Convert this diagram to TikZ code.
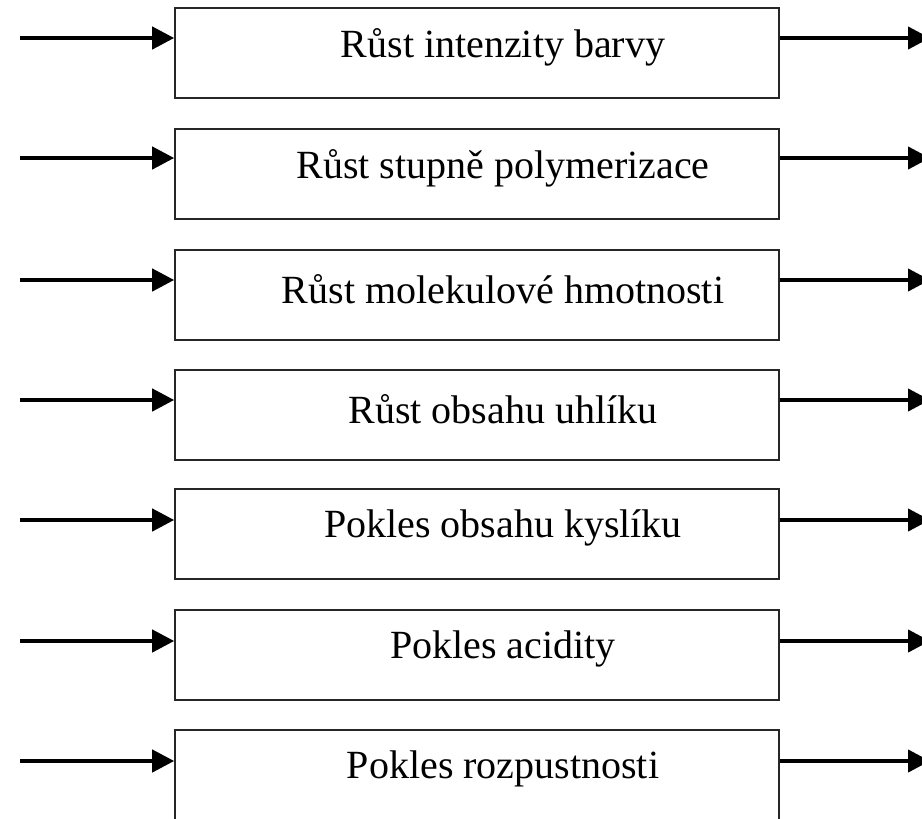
\documentclass[tikz,border=0pt]{standalone}
\usepackage{fontspec}
\setmainfont{Liberation Serif}
\usetikzlibrary{arrows.meta}
\tikzset{
	stagebox/.style={draw=black!85, line width=1.6pt, minimum width=604pt, minimum height=90pt, inner sep=0pt},
	stagetext/.style={font=\fontsize{40}{46}\selectfont, xshift=26pt, yshift=6pt},
	flow/.style={line width=4.2pt, -{Triangle[length=22pt, width=22pt]}}
}

\begin{document}
\begin{tikzpicture}[x=1pt, y=-1pt]
			%%%%% START %%%%%
			
			\useasboundingbox (0, 0) rectangle (922, 819);
			\clip (0, 0) rectangle (922, 819);
			
			\node[stagebox, label={[stagetext]center:Růst intenzity barvy}] (rust1) at (477, 53) {};
			\node[stagebox, label={[stagetext]center:Růst stupně polymerizace}] (rust2) at (477, 174) {};
			\node[stagebox, label={[stagetext]center:Růst molekulové hmotnosti}] (rust3) at (477, 295) {};
			\node[stagebox, label={[stagetext]center:Růst obsahu uhlíku}] (rust4) at (477, 415) {};
			\node[stagebox, label={[stagetext]center:Pokles obsahu kyslíku}] (pokles1) at (477, 534) {};
			\node[stagebox, label={[stagetext]center:Pokles acidity}] (pokles2) at (477, 655) {};
			\node[stagebox, label={[stagetext]center:Pokles rozpustnosti}] (pokles3) at (477, 775) {};
			
			\coordinate (in1) at (20, 38);
			\coordinate (in2) at (20, 158);
			\coordinate (in3) at (20, 280);
			\coordinate (in4) at (20, 400);
			\coordinate (in5) at (20, 520);
			\coordinate (in6) at (20, 641);
			\coordinate (in7) at (20, 761);
			
			\coordinate (out1) at (930, 38);
			\coordinate (out2) at (930, 158);
			\coordinate (out3) at (930, 280);
			\coordinate (out4) at (930, 400);
			\coordinate (out5) at (930, 520);
			\coordinate (out6) at (930, 641);
			\coordinate (out7) at (930, 761);
			
			\draw[flow] (in1) -- (in1 -| rust1.west);
			\draw[flow] (in2) -- (in2 -| rust2.west);
			\draw[flow] (in3) -- (in3 -| rust3.west);
			\draw[flow] (in4) -- (in4 -| rust4.west);
			\draw[flow] (in5) -- (in5 -| pokles1.west);
			\draw[flow] (in6) -- (in6 -| pokles2.west);
			\draw[flow] (in7) -- (in7 -| pokles3.west);
			
			\draw[flow] (out1 -| rust1.east) -- (out1);
			\draw[flow] (out2 -| rust2.east) -- (out2);
			\draw[flow] (out3 -| rust3.east) -- (out3);
			\draw[flow] (out4 -| rust4.east) -- (out4);
			\draw[flow] (out5 -| pokles1.east) -- (out5);
			\draw[flow] (out6 -| pokles2.east) -- (out6);
			\draw[flow] (out7 -| pokles3.east) -- (out7);
			
			%%%%% END %%%%%
\end{tikzpicture}
\end{document}
